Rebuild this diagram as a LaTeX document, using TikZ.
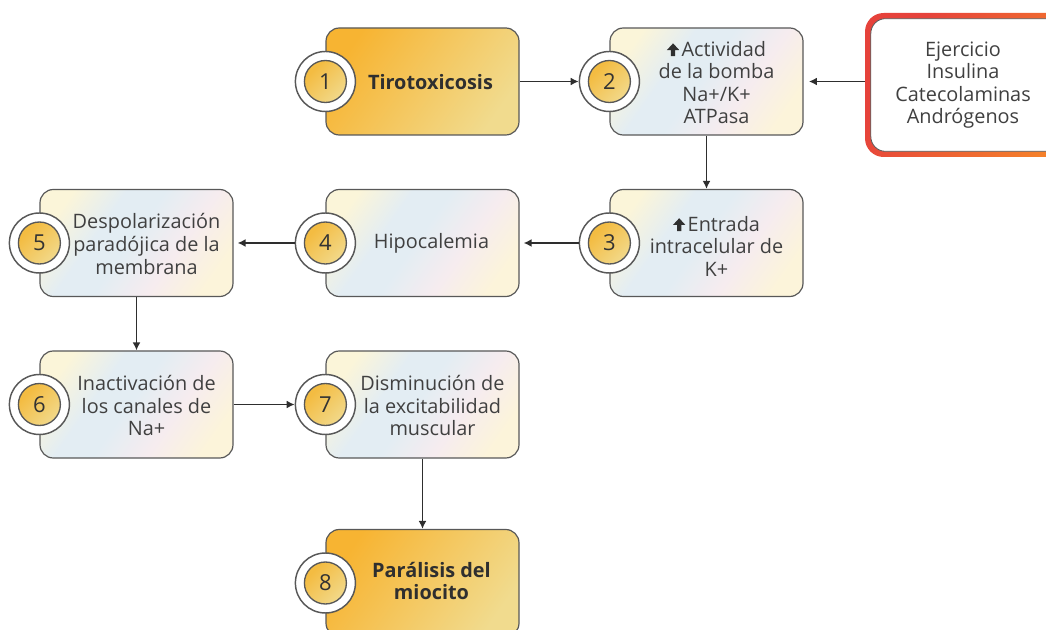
\documentclass[tikz,border=0pt]{standalone}
\usepackage{fontspec}
\setmainfont{Open Sans}
\usetikzlibrary{arrows.meta,calc}
\definecolor{boxline}{HTML}{585858}
\definecolor{arrc}{HTML}{2E2E2E}
\definecolor{txt}{HTML}{404040}
\definecolor{btxt}{HTML}{2F2F2F}
\definecolor{numc}{HTML}{333333}
\definecolor{gA}{HTML}{F7B432}
\definecolor{gB}{HTML}{F1DB8E}
\definecolor{yA}{HTML}{F3BC42}
\definecolor{yB}{HTML}{F2D98A}
\definecolor{pA}{HTML}{FBF5D9}
\definecolor{pB}{HTML}{E3EDF3}
\definecolor{pC}{HTML}{F6ECEF}
\definecolor{pD}{HTML}{FCF4DA}
\definecolor{rA}{HTML}{E6423B}
\definecolor{rB}{HTML}{F5802A}
\pgfdeclarehorizontalshading{goldgrad}{100bp}{color(0bp)=(gA); color(25bp)=(gA); color(75bp)=(gB); color(100bp)=(gB)}
\pgfdeclarehorizontalshading{badgegrad}{100bp}{color(0bp)=(yA); color(30bp)=(yA); color(75bp)=(yB); color(100bp)=(yB)}
\pgfdeclarehorizontalshading{pastel}{100bp}{color(0bp)=(pA); color(24bp)=(pA); color(38bp)=(pB); color(48bp)=(pB); color(62bp)=(pC); color(76bp)=(pD); color(100bp)=(pD)}
\pgfdeclarehorizontalshading{redgrad}{100bp}{color(0bp)=(rA); color(30bp)=(rA); color(75bp)=(rB); color(100bp)=(rB)}
\newcommand{\uarr}{\tikz[baseline=0pt,x=1pt,y=1pt]\fill[btxt] (3,0) rectangle (6.2,4.8) (0,4.6) -- (4.6,9.6) -- (9.2,4.6) -- cycle;\hspace{1.8pt}}
\begin{document}
\begin{tikzpicture}[x=0.75pt,y=-0.75pt,
  box/.style={draw=boxline, line width=0.9pt, rounded corners=10pt, minimum width=144.75pt, minimum height=80.25pt, inner sep=0pt},
  pbox/.style={box, shade, shading=pastel, shading angle=-35},
  gbox/.style={box, shade, shading=goldgrad, shading angle=-35},
  outerb/.style={circle, draw=boxline, line width=1.1pt, fill=white, minimum size=45pt, inner sep=0pt},
  innerb/.style={circle, draw=boxline, line width=1pt, shade, shading=badgegrad, shading angle=-45, minimum size=31.5pt, inner sep=0pt, font=\fontsize{16.5pt}{16.5pt}\selectfont, text=numc},
  lbl/.style={align=center, text=txt, font=\fontsize{14.9pt}{16.9pt}\selectfont, inner sep=0pt},
  blbl/.style={lbl, text=btxt, font=\fontsize{14.9pt}{16.9pt}\selectfont\bfseries},
  arr/.style={draw=arrc, line width=1.3pt, -{Latex[length=6pt,width=6pt]}}
]
\useasboundingbox (0,0) rectangle (1046,630);
% boxes
\node[gbox] (b1) at (422.5,81.5) {};
\node[pbox] (b2) at (706.5,81.5) {};
\node[pbox] (b3) at (706.5,243) {};
\node[pbox] (b4) at (422.5,243) {};
\node[pbox] (b5) at (136.5,243) {};
\node[pbox] (b6) at (136.5,404.5) {};
\node[pbox] (b7) at (422.5,404.5) {};
\node[gbox] (b8) at (422.5,583) {};
% red box
\node[minimum width=161.25pt, minimum height=108pt, rounded corners=14pt, shade, shading=redgrad, shading angle=-30, inner sep=0pt] (r) at (972.5,85) {};
\node[minimum width=152.5pt, minimum height=99.5pt, rounded corners=11pt, fill=white, draw=boxline, line width=0.6pt, inner sep=0pt] (ri) at (r.center) {};
\node[lbl] (rt) at (963,85) {Ejercicio\\Insulina\\Catecolaminas\\Andrógenos};
% badges
\foreach \i in {1,...,8}{
  \node[outerb] (o\i) at (b\i.west) {};
  \node[innerb] (n\i) at (b\i.west) {\i};
}
% texts
\node[blbl] (t1) at ($(b1.center)+(8,1)$) {Tirotoxicosis};
\node[lbl] (t2) at ($(b2.center)+(10,1)$) {\uarr Actividad\\de la bomba\\Na+/K+\\ATPasa};
\node[lbl] (t3) at ($(b3.center)+(10,3)$) {\uarr Entrada\\intracelular de\\K+};
\node[lbl] (t4) at ($(b4.center)+(9,0)$) {Hipocalemia};
\node[lbl] (t5) at ($(b5.center)+(10,1)$) {Despolarización\\paradójica de la\\membrana};
\node[lbl] (t6) at ($(b6.center)+(10,1)$) {Inactivación de\\los canales de\\Na+};
\node[lbl] (t7) at ($(b7.center)+(10,1)$) {Disminución de\\la excitabilidad\\muscular};
\node[blbl] (t8) at ($(b8.center)+(9,-2)$) {Parálisis del\\miocito};
% arrows
\draw[arr] (b1.east) -- (o2.west);
\draw[arr, shorten >=4pt] (r.west |- b2.east) -- (b2.east);
\draw[arr] (b2.south) -- (b3.north);
\draw[arr, shorten >=3pt] (o3.west) -- (b4.east);
\draw[arr, shorten >=3pt] (o4.west) -- (b5.east);
\draw[arr] (b5.south) -- (b6.north);
\draw[arr] (b6.east) -- (o7.west);
\draw[arr] (b7.south) -- (b8.north);
\end{tikzpicture}
\end{document}
